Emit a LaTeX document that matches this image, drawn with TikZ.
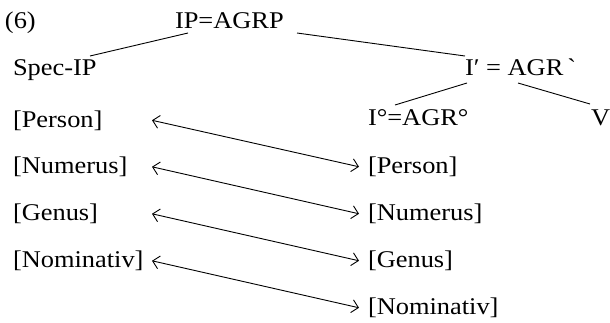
\documentclass[tikz,border=0pt]{standalone}
\usepackage{fontspec}
\setmainfont{Liberation Serif}[FakeStretch=1.1]
\usetikzlibrary{arrows.meta}
\tikzset{
  lbl/.style={anchor=base west, inner sep=0pt, outer sep=0pt, font=\fontsize{24}{28}\selectfont},
  lft/.style={lbl, text width=137pt},
  branch/.style={line width=0.9pt},
  link/.style={line width=0.9pt, {Straight Barb[length=6.5pt,width=13pt]}-{Straight Barb[length=6.5pt,width=13pt]}},
}
\begin{document}
\begin{tikzpicture}[x=1pt,y=-1pt]
\useasboundingbox (0,0) rectangle (610,322);
% tree
\node[lbl] (six) at (5,28) {(6)};
\node[lbl] (ip) at (175,28) {IP=AGRP};
\node[lbl] (spec) at (13,75) {Spec-IP};
\node[lbl] (ibar) at (465,75) {I′ = AGR\,\textasciigrave};
\node[lbl] (idef) at (368,125) {I°=AGR°};
\node[lbl] (v) at (591,125) {V};
\draw[branch] ([shift={(13,5)}]ip.base west) -- ([shift={(77,-19)}]spec.base west);
\draw[branch] ([shift={(122,5)}]ip.base west) -- ([shift={(0,-19)}]ibar.base west);
\draw[branch] ([shift={(2,8)}]ibar.base west) -- ([shift={(27,-20)}]idef.base west);
\draw[branch] ([shift={(53,8)}]ibar.base west) -- ([shift={(-1,-21)}]v.base west);
% features
\node[lft] (l1) at (13,127) {[Person]};
\node[lft] (l2) at (13,173.5) {[Numerus]};
\node[lft] (l3) at (13,220.5) {[Genus]};
\node[lft] (l4) at (13,267.5) {[Nominativ]};
\node[lbl] (r1) at (368,173.5) {[Person]};
\node[lbl] (r2) at (368,220.5) {[Numerus]};
\node[lbl] (r3) at (368,267.5) {[Genus]};
\node[lbl] (r4) at (368,314.5) {[Nominativ]};
\foreach \i in {1,...,4}{
  \draw[link] ([xshift=2pt]l\i.east) -- ([xshift=-9pt]r\i.west);
}
\end{tikzpicture}
\end{document}
